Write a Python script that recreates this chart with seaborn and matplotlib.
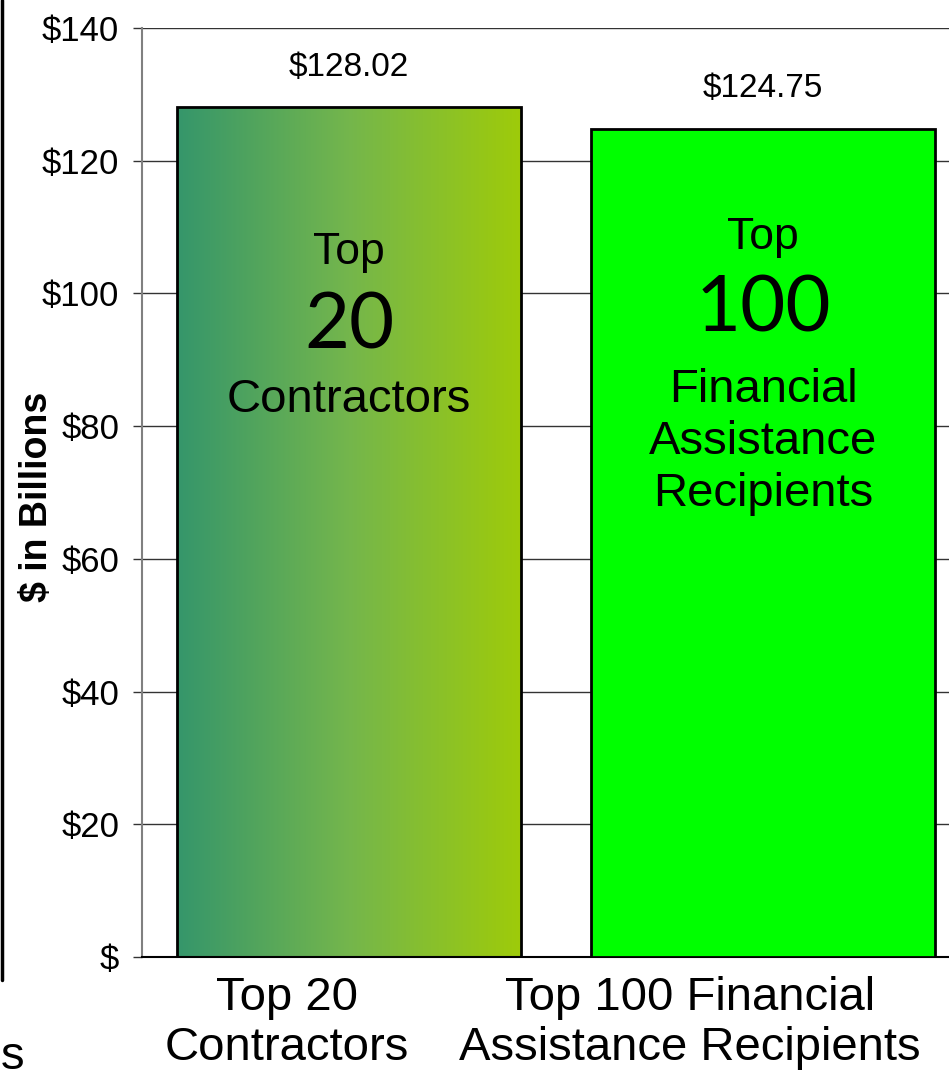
import numpy as np
import pandas as pd
import seaborn as sns
import matplotlib.pyplot as plt
import matplotlib.transforms as mtransforms
from matplotlib.colors import LinearSegmentedColormap
from matplotlib.lines import Line2D

# data
categories = ["Top 20\nContractors", "Top 100 Financial\nAssistance Recipients"]
values = [128.02, 124.75]
value_labels = ["$128.02", "$124.75"]
bar_colors = ["#6aae3c", "#00ff00"]
inner_top = ["Top", "Top"]
inner_number = ["20", "100"]
inner_bottom = ["Contractors", "Financial\nAssistance\nRecipients"]
yticks = [0, 20, 40, 60, 80, 100, 120, 140]
ytick_labels = ["$", "$20", "$40", "$60", "$80", "$100", "$120", "$140"]

sns.set_style("white")
plt.rcParams['font.family'] = ['Liberation Sans', 'DejaVu Sans']
plt.rcParams['text.color'] = 'black'
plt.rcParams['xtick.color'] = 'black'
plt.rcParams['ytick.color'] = 'black'
plt.rcParams['axes.labelcolor'] = 'black'

fig = plt.figure(figsize=(9.49, 10.8), dpi=100)
ax = fig.add_axes([142/949, 123/1080, 828/949, 929/1080])

df = pd.DataFrame({'cat': categories, 'val': values})
sns.barplot(data=df, x='cat', y='val', hue='cat', palette=bar_colors,
            saturation=1, width=0.83, edgecolor='black', linewidth=2,
            legend=False, ax=ax, zorder=2)

# gradient fill for the first bar
grad_cmap = LinearSegmentedColormap.from_list(
    'grad', ['#35966b', '#74b64c', '#9ecb0a'])
p = ax.patches[0]
x0, w, h = p.get_x(), p.get_width(), p.get_height()
im = ax.imshow(np.linspace(0, 1, 256).reshape(1, -1), cmap=grad_cmap,
               extent=[x0, x0 + w, 0, h], aspect='auto', zorder=2.5)
im.set_clip_path(p)
p.set_facecolor('none')
p.set_zorder(3)
ax.patches[1].set_zorder(3)

ax.set_xlim(-0.5, 1.5)
ax.set_ylim(0, 140)

# value labels above bars
for i, (v, lab) in enumerate(zip(values, value_labels)):
    ax.annotate(lab, xy=(i, v), xytext=(0, 29), textcoords='offset points',
                ha='center', va='center', fontsize=24)

# text inside the bars
num_font = ['Lato', 'DejaVu Sans']
ax.text(0, 106.1, inner_top[0], ha='center', va='center', fontsize=32, zorder=4)
ax.text(0, 94.9, inner_number[0], ha='center', va='center', fontsize=56,
        family=num_font, fontweight='normal', zorder=4)
ax.text(0, 83.9, inner_bottom[0], ha='center', va='center', fontsize=34, zorder=4)
ax.text(1, 108.4, inner_top[1], ha='center', va='center', fontsize=32, zorder=4)
ax.text(1, 97.5, inner_number[1], ha='center', va='center', fontsize=56,
        family=num_font, fontweight='normal', zorder=4)
ax.text(1, 77.6, inner_bottom[1], ha='center', va='center', fontsize=34,
        linespacing=1.23, zorder=4)

# axes styling
ax.set_yticks(yticks)
ax.set_yticklabels(ytick_labels)
ax.tick_params(axis='y', length=6.5, color='#333333', width=1, pad=10,
               labelsize=25, left=True)
ax.yaxis.grid(True, color='#333333', linewidth=1)
ax.set_axisbelow(True)

ax.set_xticks([0, 1])
ax.set_xticklabels(categories, fontsize=34, linespacing=1.15)
ax.tick_params(axis='x', length=0, pad=14)
for lbl, dx in zip(ax.get_xticklabels(), [-62, -73]):
    lbl.set_transform(lbl.get_transform() +
                      mtransforms.ScaledTranslation(dx / 100, 0, fig.dpi_scale_trans))

ax.set_xlabel('')
ax.set_ylabel('')
fig.text(37/949, 1 - 497/1080, '$ in Billions', rotation=90, fontsize=27,
         fontweight='bold', ha='center', va='center')

sns.despine(ax=ax, top=True, right=True)
ax.spines['left'].set_color('#808080')
ax.spines['left'].set_linewidth(1.5)
ax.spines['bottom'].set_color('black')
ax.spines['bottom'].set_linewidth(1.5)

# cropped remnants at the left edge
fig.add_artist(Line2D([2/949, 2/949], [1 - 980/1080, 1], color='black',
                      linewidth=2.5, transform=fig.transFigure))
fig.text(1/949, 1 - 1057/1080, 's', ha='left', va='center', fontsize=34)

fig.savefig('out.png', dpi=100)
